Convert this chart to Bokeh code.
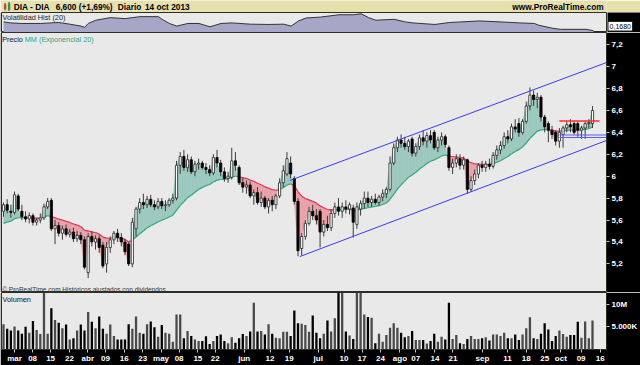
from bokeh.plotting import figure
from bokeh.layouts import column, row
from bokeh.models import (Range1d, LinearAxis, FixedTicker, CustomJSTickFormatter, Label)
from bokeh.embed import file_html
from bokeh.resources import INLINE

# ---------------- data ----------------
opens = [5.68, 5.74, 5.68, 5.67, 5.82, 5.68, 5.63, 5.61, 5.64, 5.58,
         5.60, 5.62, 5.72, 5.78, 5.52, 5.55, 5.48, 5.52, 5.47, 5.49,
         5.43, 5.46, 5.42, 5.12, 5.45, 5.40, 5.43, 5.37, 5.20, 5.35,
         5.42, 5.48, 5.44, 5.40, 5.38, 5.20, 5.52, 5.70, 5.76, 5.74,
         5.79, 5.74, 5.72, 5.77, 5.73, 5.74, 5.78, 5.80, 6.10, 6.18,
         6.08, 6.15, 6.04, 6.11, 6.12, 6.08, 6.06, 6.03, 6.17, 6.12,
         6.04, 5.98, 5.99, 6.14, 6.08, 5.94, 5.90, 5.92, 5.82, 5.85,
         5.76, 5.80, 5.72, 5.78, 5.74, 5.82, 5.94, 6.02, 6.12, 5.98,
         5.77, 5.34, 5.45, 5.57, 5.68, 5.64, 5.68, 5.49, 5.56, 5.53,
         5.66, 5.72, 5.68, 5.72, 5.70, 5.71, 5.56, 5.70, 5.75, 5.80,
         5.76, 5.79, 5.76, 5.81, 5.84, 5.88, 6.12, 6.26, 6.33, 6.30,
         6.27, 6.34, 6.21, 6.27, 6.35, 6.32, 6.37, 6.40, 6.26, 6.33,
         6.36, 6.26, 6.08, 6.12, 6.16, 6.10, 6.15, 5.88, 5.96, 6.02,
         6.10, 6.08, 6.11, 6.09, 6.19, 6.24, 6.28, 6.36, 6.34, 6.45,
         6.48, 6.40, 6.50, 6.64, 6.74, 6.70, 6.72, 6.54, 6.48, 6.42,
         6.40, 6.32, 6.38, 6.44, 6.47, 6.48, 6.48, 6.42, 6.44, 6.48,
         6.48]
highs = [5.76, 5.79, 5.74, 5.86, 5.84, 5.74, 5.68, 5.67, 5.66, 5.62,
         5.66, 5.75, 5.80, 5.80, 5.60, 5.58, 5.55, 5.56, 5.52, 5.53,
         5.50, 5.49, 5.45, 5.48, 5.50, 5.46, 5.46, 5.40, 5.40, 5.45,
         5.50, 5.52, 5.48, 5.43, 5.40, 5.62, 5.72, 5.80, 5.84, 5.82,
         5.83, 5.78, 5.80, 5.80, 5.78, 5.80, 5.84, 6.14, 6.22, 6.24,
         6.20, 6.18, 6.14, 6.16, 6.14, 6.12, 6.10, 6.20, 6.24, 6.15,
         6.08, 6.04, 6.26, 6.22, 6.10, 5.99, 5.96, 5.95, 5.88, 5.90,
         5.86, 5.82, 5.80, 5.82, 5.84, 5.98, 6.10, 6.22, 6.18, 6.00,
         5.80, 5.48, 5.60, 5.72, 5.74, 5.70, 5.70, 5.60, 5.64, 5.70,
         5.76, 5.80, 5.76, 5.78, 5.76, 5.74, 5.76, 5.78, 5.86, 5.86,
         5.82, 5.84, 5.83, 5.88, 5.90, 6.18, 6.30, 6.36, 6.38, 6.36,
         6.34, 6.36, 6.30, 6.38, 6.42, 6.40, 6.42, 6.42, 6.36, 6.40,
         6.38, 6.28, 6.16, 6.20, 6.20, 6.18, 6.16, 6.00, 6.06, 6.12,
         6.14, 6.14, 6.16, 6.22, 6.28, 6.32, 6.40, 6.42, 6.48, 6.52,
         6.53, 6.52, 6.68, 6.81, 6.78, 6.76, 6.74, 6.56, 6.50, 6.46,
         6.42, 6.44, 6.46, 6.50, 6.52, 6.50, 6.50, 6.46, 6.50, 6.52,
         6.64]
lows = [5.63, 5.66, 5.62, 5.65, 5.68, 5.60, 5.58, 5.57, 5.55, 5.55,
        5.57, 5.60, 5.70, 5.50, 5.38, 5.45, 5.42, 5.45, 5.44, 5.40,
        5.40, 5.38, 5.15, 5.07, 5.36, 5.33, 5.30, 5.16, 5.12, 5.30,
        5.38, 5.40, 5.36, 5.28, 5.18, 5.17, 5.45, 5.66, 5.70, 5.71,
        5.72, 5.69, 5.70, 5.70, 5.68, 5.72, 5.75, 5.78, 6.02, 6.05,
        6.04, 6.02, 6.00, 6.06, 6.06, 6.02, 6.00, 6.01, 6.08, 6.00,
        5.95, 5.94, 5.97, 6.05, 5.92, 5.85, 5.84, 5.80, 5.74, 5.74,
        5.72, 5.70, 5.66, 5.68, 5.70, 5.80, 5.90, 6.00, 5.98, 5.74,
        5.27, 5.28, 5.42, 5.55, 5.60, 5.56, 5.35, 5.45, 5.50, 5.50,
        5.62, 5.64, 5.62, 5.66, 5.65, 5.44, 5.52, 5.64, 5.70, 5.72,
        5.72, 5.74, 5.73, 5.77, 5.80, 5.86, 6.10, 6.22, 6.26, 6.24,
        6.22, 6.18, 6.18, 6.24, 6.28, 6.26, 6.30, 6.24, 6.22, 6.28,
        6.26, 6.05, 6.02, 6.08, 6.06, 6.06, 5.84, 5.86, 5.92, 5.98,
        6.04, 6.04, 6.06, 6.07, 6.15, 6.20, 6.25, 6.30, 6.32, 6.40,
        6.36, 6.38, 6.48, 6.60, 6.64, 6.62, 6.50, 6.40, 6.31, 6.34,
        6.28, 6.26, 6.26, 6.40, 6.40, 6.38, 6.36, 6.34, 6.34, 6.44,
        6.44]
closes = [5.74, 5.69, 5.67, 5.83, 5.70, 5.63, 5.61, 5.64, 5.58, 5.60,
          5.62, 5.72, 5.77, 5.52, 5.55, 5.48, 5.52, 5.47, 5.49, 5.43,
          5.46, 5.42, 5.17, 5.45, 5.40, 5.43, 5.35, 5.18, 5.35, 5.42,
          5.48, 5.44, 5.40, 5.31, 5.20, 5.58, 5.70, 5.76, 5.74, 5.79,
          5.74, 5.72, 5.77, 5.73, 5.74, 5.78, 5.80, 6.10, 6.18, 6.08,
          6.15, 6.04, 6.11, 6.12, 6.08, 6.06, 6.03, 6.17, 6.12, 6.04,
          5.98, 6.00, 6.14, 6.10, 5.94, 5.90, 5.92, 5.82, 5.85, 5.76,
          5.80, 5.72, 5.78, 5.74, 5.82, 5.94, 6.05, 6.16, 6.02, 5.77,
          5.32, 5.45, 5.57, 5.68, 5.64, 5.60, 5.49, 5.56, 5.53, 5.66,
          5.72, 5.68, 5.72, 5.70, 5.74, 5.58, 5.72, 5.75, 5.80, 5.76,
          5.79, 5.76, 5.81, 5.84, 5.88, 6.12, 6.26, 6.33, 6.30, 6.27,
          6.32, 6.21, 6.27, 6.35, 6.32, 6.37, 6.33, 6.26, 6.33, 6.36,
          6.29, 6.08, 6.12, 6.16, 6.10, 6.15, 5.88, 5.96, 6.02, 6.10,
          6.08, 6.11, 6.09, 6.19, 6.24, 6.28, 6.36, 6.34, 6.45, 6.43,
          6.40, 6.50, 6.64, 6.74, 6.70, 6.72, 6.54, 6.45, 6.42, 6.38,
          6.32, 6.40, 6.44, 6.47, 6.45, 6.40, 6.42, 6.44, 6.48, 6.49,
          6.60]
volume_m = [5.6, 4.6, 4.2, 5.1, 4.2, 3.5, 5.0, 3.7, 6.3, 4.3,
            3.4, 13.0, 3.5, 9.1, 6.5, 5.9, 4.7, 5.5, 2.2, 2.5,
            4.2, 5.5, 4.2, 8.3, 6.1, 4.7, 7.3, 4.6, 3.5, 5.5,
            3.0, 2.2, 2.2, 2.2, 5.6, 4.6, 7.3, 3.7, 3.5, 5.6,
            6.2, 4.9, 2.8, 5.4, 3.7, 3.5, 1.7, 7.7, 7.7, 2.5,
            4.1, 3.0, 2.2, 1.9, 1.9, 2.9, 1.2, 1.9, 3.0, 3.3,
            1.9, 1.4, 2.7, 1.5, 2.5, 3.4, 3.0, 4.0, 10.3, 4.0,
            4.1, 3.3, 5.6, 3.5, 2.6, 2.5, 3.9, 3.9, 3.0, 8.6,
            5.8, 5.7, 5.4, 3.9, 7.5, 3.7, 2.5, 3.5, 6.4, 4.0,
            6.9, 13.0, 13.0, 4.0, 3.1, 2.3, 13.0, 13.0, 7.7, 7.2,
            7.0, 1.4, 3.5, 1.7, 3.2, 4.8, 5.8, 4.8, 3.7, 2.7,
            3.0, 4.1, 2.1, 2.1, 2.1, 1.3, 1.9, 3.5, 1.7, 2.8,
            2.2, 10.3, 2.3, 3.2, 1.4, 1.2, 2.3, 3.0, 2.3, 2.3,
            2.5, 2.7, 2.0, 3.3, 3.3, 3.0, 3.7, 2.5, 2.5, 3.3,
            2.1, 3.3, 4.7, 7.1, 2.5, 2.3, 3.5, 5.8, 4.4, 1.9,
            3.0, 4.2, 3.4, 2.8, 3.2, 3.2, 6.1, 2.6, 6.2, 2.5,
            6.4]
ema_seed = 5.57
ema_period = 20

vol_hist_idx = [0, 2, 5, 10, 15, 18, 21, 22, 23, 25,
                29, 33, 35, 37, 42, 43, 45, 47, 50, 53,
                56, 59, 62, 67, 72, 76, 78, 80, 82, 86,
                91, 95, 97, 99, 101, 106, 109, 111, 117, 121,
                124, 129, 135, 140, 144, 145, 149, 151, 158, 160]
vol_hist_val = [0.292, 0.278, 0.270, 0.270, 0.284, 0.260, 0.233, 0.215, 0.270, 0.316,
                0.353, 0.339, 0.353, 0.367, 0.367, 0.329, 0.270, 0.233, 0.270, 0.270,
                0.223, 0.270, 0.278, 0.260, 0.256, 0.260, 0.233, 0.306, 0.347, 0.361,
                0.394, 0.394, 0.408, 0.353, 0.316, 0.329, 0.292, 0.278, 0.256, 0.284,
                0.292, 0.306, 0.292, 0.278, 0.270, 0.247, 0.201, 0.187, 0.187, 0.168]

# drawn objects (bar index, price)
channel_upper_x = [77.8, 163.8]
channel_upper_y = [5.961, 7.037]
channel_lower_x = [80.5, 163.8]
channel_lower_y = [5.267, 6.326]
red_level_x = [151.0, 161.9]
red_level = 6.503
blue_levels_x = [151.0, 163.8]
blue_levels = [6.376, 6.353]

price_ticks = [5.2, 5.4, 5.6, 5.8, 6.0, 6.2, 6.4, 6.6, 6.8, 7.0, 7.2]
volume_ticks = [5, 10]
volume_tick_labels = ["5.000K", "10M"]
x_tick_pos = [3, 7.9, 12.8, 17.9, 22.9, 27.7, 32.8, 37.8, 42.8, 47.7,
              52.8, 57.5, 65.4, 72.4, 77.6, 85.5, 92.5, 97.4, 102.4, 107.7,
              112, 117.2, 122.1, 130.1, 136.9, 142, 147, 151.4, 156.9, 162.1]
x_tick_labels = ["mar", "08", "15", "22", "abr", "09", "16", "23", "may", "08",
                 "15", "22", "jun", "12", "19", "jul", "10", "17", "24", "ago",
                 "07", "14", "21", "sep", "11", "18", "25", "oct", "09", "16"]

# ---------------- styling / layout helpers ----------------
FONT = "Liberation Sans"
BG = "#e9e9e9"
X0, X1 = -0.542, 163.8
PXB = 606.0 / (X1 - X0)


def xd(px):
    return X0 + (px - 1) / PXB


def yprice(py):
    return 6 + (175.7 - py) / 109.6


def yvolat(py):
    return 0.15 + (32 - py) * 0.0138


n = len(closes)
idx = list(range(n))
xr = Range1d(X0, X1)


def base_fig(h, yr, bottom=0, width=640, right=33):
    p = figure(width=width, height=h, x_range=xr, y_range=yr,
               x_axis_type=None, y_axis_type=None,
               toolbar_location=None, tools="", output_backend="svg",
               min_border_left=1, min_border_right=right,
               min_border_top=0, min_border_bottom=bottom,
               background_fill_color=BG, border_fill_color="black",
               outline_line_color="#2e2e24")
    return p


def style_axis(ax):
    ax.axis_line_color = None
    ax.major_tick_line_color = "#c8c8c8"
    ax.major_tick_out = 3
    ax.major_tick_in = 0
    ax.minor_tick_line_color = None
    ax.major_label_text_color = "white"
    ax.major_label_text_font = FONT
    ax.major_label_text_font_style = "bold"
    ax.major_label_text_font_size = "8px"
    ax.major_label_standoff = 2


# ---------------- title bar ----------------
pt = figure(width=640, height=12, x_range=Range1d(0, 640), y_range=Range1d(12, 0),
            x_axis_type=None, y_axis_type=None, toolbar_location=None, tools="",
            output_backend="svg", min_border=0, background_fill_color="#e6dfae",
            border_fill_color="#e6dfae", outline_line_color=None)
pt.segment(x0=[3.8, 8.0], y0=[2.5, 1.5], x1=[3.8, 8.0], y1=[10, 10.5], line_color="#404040", line_width=1)
pt.quad(left=[2.6, 6.8], right=[5.0, 9.3], top=[4.0, 3.0], bottom=[8.5, 9.3],
        fill_color=["#e03030", "#20a040"], line_color=None)
title_parts = [(13, "DIA - DIA"), (57.3, "6,600 (+1,69%)"), (123, "Diario"), (151.7, "14 oct 2013")]
for tx, tt in title_parts:
    pt.add_layout(Label(x=tx, y=6.4, text=tt, text_font=FONT, text_font_style="bold",
                        text_font_size="8.3px", text_baseline="middle", text_color="black"))
pt.add_layout(Label(x=637, y=6.4, text="www.ProRealTime.com", text_font=FONT, text_font_style="bold",
                    text_font_size="8.3px", text_baseline="middle", text_align="right", text_color="black"))

# ---------------- historical volatility ----------------
pv = base_fig(20, Range1d(yvolat(32.6), yvolat(12)), width=607, right=0)
pv.varea(x=vol_hist_idx, y1=yvolat(32.6), y2=vol_hist_val, fill_color="#a6a6c6")
pv.line(vol_hist_idx, vol_hist_val, line_color="#333333", line_width=1)
pv.add_layout(Label(x=xd(2), y=yvolat(17.6), text="Volatilidad Hist (20)", text_font=FONT,
                    text_font_size="7.3px", text_baseline="middle", text_color="#222222"))

# value box at the right of the volatility panel (local pixel frame 33 x 20)
pb = figure(width=33, height=20, x_range=Range1d(0, 33), y_range=Range1d(20, 0),
            x_axis_type=None, y_axis_type=None, toolbar_location=None, tools="",
            output_backend="svg", min_border=0, background_fill_color="black",
            border_fill_color="black", outline_line_color=None)
pb.quad(left=[0.5], right=[25], top=[9], bottom=[18.5], fill_color="white", line_color="#222222", line_width=1)
pb.add_layout(Label(x=12.8, y=13.9, text=("%.4f" % vol_hist_val[-1]).replace(".", ","),
                    text_font=FONT, text_font_size="7px", text_baseline="middle", text_align="center",
                    text_color="black"))

# ---------------- price ----------------
pp = base_fig(260, Range1d(yprice(292), yprice(32)))

k = 2.0 / (ema_period + 1)
ema = [ema_seed]
for c in closes[1:]:
    ema.append(ema[-1] + k * (c - ema[-1]))

GF, GL, RF, RL = "#9cc8bf", "#31a87c", "#e8a3a8", "#e0335a"
pxs, pys, pcol = [], [], []
sx0, sy0, sx1, sy1, scol = [], [], [], [], []
for i in range(n - 1):
    d0 = closes[i] - ema[i]
    d1 = closes[i + 1] - ema[i + 1]
    if d0 * d1 >= 0:
        pos = (d0 + d1) >= 0
        pxs.append([i, i + 1, i + 1, i])
        pys.append([closes[i], closes[i + 1], ema[i + 1], ema[i]])
        pcol.append(GF if pos else RF)
        sx0.append(i); sy0.append(ema[i]); sx1.append(i + 1); sy1.append(ema[i + 1])
        scol.append(GL if pos else RL)
    else:
        t = d0 / (d0 - d1)
        xc = i + t
        yc = ema[i] + t * (ema[i + 1] - ema[i])
        pxs.append([i, xc, i]); pys.append([closes[i], yc, ema[i]]); pcol.append(GF if d0 > 0 else RF)
        pxs.append([xc, i + 1, i + 1]); pys.append([yc, closes[i + 1], ema[i + 1]]); pcol.append(GF if d1 > 0 else RF)
        sx0 += [i, xc]; sy0 += [ema[i], yc]; sx1 += [xc, i + 1]; sy1 += [yc, ema[i + 1]]
        scol += [GL if d0 > 0 else RL, GL if d1 > 0 else RL]

pp.patches(pxs, pys, fill_color=pcol, line_color=pcol, line_width=0.5)
pp.segment(x0=sx0, y0=sy0, x1=sx1, y1=sy1, line_color=scol, line_width=1.2)

up = [i for i in idx if closes[i] >= opens[i]]
dn = [i for i in idx if closes[i] < opens[i]]
pp.segment(x0=idx, y0=lows, x1=idx, y1=highs, line_color="#3c3c3c", line_width=1)
pp.vbar(x=up, width=0.6, top=[closes[i] for i in up], bottom=[opens[i] for i in up],
        fill_color="white", line_color="#222222", line_width=0.8)
pp.vbar(x=dn, width=0.6, top=[opens[i] for i in dn], bottom=[closes[i] for i in dn],
        fill_color="black", line_color="black", line_width=0.8)

pp.line(channel_upper_x, channel_upper_y, line_color="#3b3bf5", line_width=1)
pp.line(channel_lower_x, channel_lower_y, line_color="#3b3bf5", line_width=1)
for lv in blue_levels:
    pp.line(blue_levels_x, [lv, lv], line_color="#5a5aff", line_width=1)
pp.line(red_level_x, [red_level, red_level], line_color="#ff2a2a", line_width=1.6)

pax = LinearAxis(ticker=FixedTicker(ticks=price_ticks),
                 formatter=CustomJSTickFormatter(code="return (Math.round(tick*10)/10).toString().replace('.', ',');"))
style_axis(pax)
pp.add_layout(pax, "right")

pp.add_layout(Label(x=xd(1.7), y=yprice(38.5), text="Precio", text_font=FONT, text_font_size="7.3px",
                    text_baseline="middle", text_color="#111111"))
pp.add_layout(Label(x=xd(24.3), y=yprice(38.5), text="MM (Exponencial 20)", text_font=FONT,
                    text_font_size="7.3px", text_baseline="middle", text_color="#2fa585"))
pp.add_layout(Label(x=xd(1.7), y=yprice(288.5), text="\u00a9 ProRealTime.com Hist\u00f3ricos ajustados con dividendos",
                    text_font=FONT, text_font_size="6.5px", text_baseline="middle", text_color="#333333"))

# ---------------- volume ----------------
pq = base_fig(73, Range1d(0, 12.58), bottom=13)
pq.vbar(x=dn, width=0.62, top=[volume_m[i] for i in dn], bottom=0, fill_color="black", line_color=None)
pq.vbar(x=up, width=0.62, top=[volume_m[i] for i in up], bottom=0, fill_color="#4a4a4a", line_color=None)
pq.add_layout(Label(x=xd(2), y=(351.7 - 299.5) / 4.77, text="Volumen", text_font=FONT, text_font_size="7.3px",
                    text_baseline="middle", text_color="#111111"))

qax = LinearAxis(ticker=FixedTicker(ticks=volume_ticks),
                 formatter=CustomJSTickFormatter(args=dict(vals=volume_ticks, labs=volume_tick_labels),
                                                 code="for (let i=0;i<vals.length;i++){if (Math.abs(vals[i]-tick)<1e-6) return labs[i];} return '';"))
style_axis(qax)
pq.add_layout(qax, "right")

xax = LinearAxis(ticker=FixedTicker(ticks=x_tick_pos),
                 formatter=CustomJSTickFormatter(args=dict(pos=x_tick_pos, labs=x_tick_labels),
                                                 code="for (let i=0;i<pos.length;i++){if (Math.abs(pos[i]-tick)<1e-6) return labs[i];} return '';"))
style_axis(xax)
xax.major_label_standoff = 1
pq.add_layout(xax, "below")

layout = column(pt, row(pv, pb, spacing=0), pp, pq, spacing=0)
with open("out.html", "w", encoding="utf-8") as f:
    f.write(file_html(layout, INLINE))
